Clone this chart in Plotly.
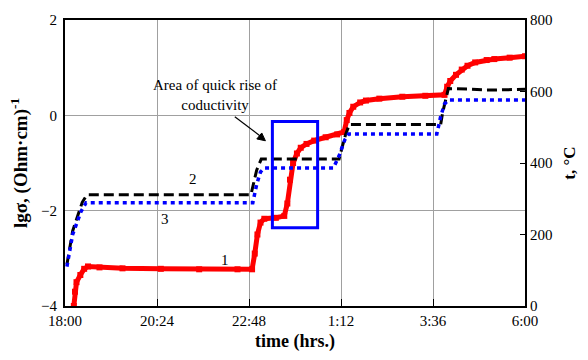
import plotly.graph_objects as go

# time in hours since 18:00
tick_vals = [0, 2.4, 4.8, 7.2, 9.6, 12]
tick_text = ["18:00", "20:24", "22:48", "1:12", "3:36", "6:00"]

# curve 1: lg(sigma)
t1 = [0.23, 0.26, 0.30, 0.40, 0.50, 0.60, 0.9, 1.5, 2.5, 3.5, 4.5, 4.88, 4.95, 5.02, 5.10,
      5.2, 5.5, 5.72, 5.80, 5.87, 5.95, 6.05, 6.15, 6.3, 6.5, 6.8, 7.1, 7.28, 7.35, 7.42,
      7.52, 7.7, 7.85, 8.2, 8.8, 9.4, 9.9, 9.97, 10.05, 10.2, 10.35, 10.5, 10.7, 11.0,
      11.2, 11.6, 12.0]
lg1 = [-4.0, -3.7, -3.5, -3.35, -3.22, -3.17, -3.19, -3.21, -3.22, -3.23, -3.23, -3.23,
       -2.9, -2.5, -2.25, -2.17, -2.15, -2.11, -1.85, -1.35, -1.0, -0.8, -0.68, -0.6,
       -0.53, -0.46, -0.40, -0.35, -0.1, 0.05, 0.18, 0.27, 0.31, 0.35, 0.39, 0.41, 0.43,
       0.6, 0.72, 0.85, 0.96, 1.04, 1.11, 1.16, 1.18, 1.21, 1.24]

# curve 2: temperature (furnace)
t2 = [0.05, 0.2, 0.45, 0.57, 4.85, 4.92, 5.0, 5.12, 7.15, 7.22, 7.32, 7.42, 9.8, 9.85,
      9.93, 10.0, 10.5, 11.0, 11.5, 12.0]
temp2 = [116, 210, 290, 311, 311, 340, 380, 411, 411, 440, 480, 508, 508, 540, 580, 608,
         607, 604, 605, 606]

# curve 3: temperature (sample)
t3 = [0.05, 0.2, 0.42, 0.55, 4.9, 5.0, 5.1, 5.2, 7.0, 7.15, 7.3, 7.4, 9.7, 9.8, 9.9,
      10.0, 12.0]
temp3 = [110, 200, 265, 289, 289, 340, 375, 386, 386, 420, 465, 481, 481, 530, 565, 576,
         576]

FONT = "Liberation Serif, Times New Roman, Times, serif"

fig = go.Figure()
fig.add_trace(go.Scatter(x=t2, y=temp2, yaxis="y2", mode="lines",
                         line=dict(color="black", width=3, dash="10px,5px"),
                         showlegend=False))
fig.add_trace(go.Scatter(x=t3, y=temp3, yaxis="y2", mode="lines",
                         line=dict(color="#0000FF", width=3.5, dash="4px,4px"),
                         showlegend=False))
fig.add_trace(go.Scatter(x=t1, y=lg1, mode="lines+markers",
                         line=dict(color="#FF0000", width=5),
                         marker=dict(symbol="square", size=6, color="#FF0000"),
                         showlegend=False))

# highlighted area
fig.add_shape(type="rect", xref="x", yref="y", x0=5.41, x1=6.59, y0=-2.36, y1=-0.13,
              line=dict(color="#0000FF", width=3), fillcolor="rgba(0,0,0,0)")

# arrow pointing at the highlighted area
fig.add_shape(type="line", xref="x", yref="y", x0=4.43, y0=-0.03, x1=5.15, y1=-0.47,
              line=dict(color="black", width=1.2))
fig.add_shape(type="path", xref="x", yref="y",
              path="M 5.228 -0.534 L 5.004 -0.495 L 5.133 -0.370 Z",
              line=dict(color="black", width=1), fillcolor="black")

fig.add_annotation(x=3.91, y=0.42, xref="x", yref="y", showarrow=False,
                   text="Area of quick rise of<br>coductivity",
                   font=dict(family=FONT, size=15, color="black"), align="center")
for lab, xx, yy in [("1", 4.17, -3.03), ("2", 3.35, -1.34), ("3", 2.60, -2.18)]:
    fig.add_annotation(x=xx, y=yy, xref="x", yref="y", showarrow=False, text=lab,
                       font=dict(family=FONT, size=15, color="black"))

fig.update_layout(
    width=588, height=360,
    margin=dict(l=65, r=57, t=14, b=50),
    paper_bgcolor="white", plot_bgcolor="white",
    font=dict(family=FONT, size=15, color="black"),
    xaxis=dict(range=[0, 12], tickvals=tick_vals, ticktext=tick_text,
               showgrid=True, gridcolor="#A0A0A0", gridwidth=1,
               showline=True, linecolor="black", linewidth=2, mirror=True,
               ticks="inside", ticklen=7, tickcolor="black", zeroline=False,
               tickfont=dict(family=FONT, size=15),
               title=dict(text="<b>time (hrs.)</b>", font=dict(family=FONT, size=18),
                          standoff=6)),
    yaxis=dict(range=[-4, 2], dtick=2, tick0=-4, showgrid=True, gridcolor="#A0A0A0",
               gridwidth=1, showline=True, linecolor="black", linewidth=2,
               ticks="outside", ticklen=3, tickcolor="white", zeroline=False,
               tickfont=dict(family=FONT, size=15),
               title=dict(text="<b>lgσ, (Ohm·cm)<sup>-1</sup></b>",
                          font=dict(family=FONT, size=19), standoff=8)),
    yaxis2=dict(range=[0, 800], dtick=200, overlaying="y", side="right",
                showgrid=False, showline=True, linecolor="black", linewidth=2,
                ticks="inside", ticklen=5, tickcolor="black", zeroline=False,
                tickfont=dict(family=FONT, size=15),
                title=dict(text="<b>t, °C</b>", font=dict(family=FONT, size=17),
                           standoff=12)),
)

fig.write_html("out.html")
